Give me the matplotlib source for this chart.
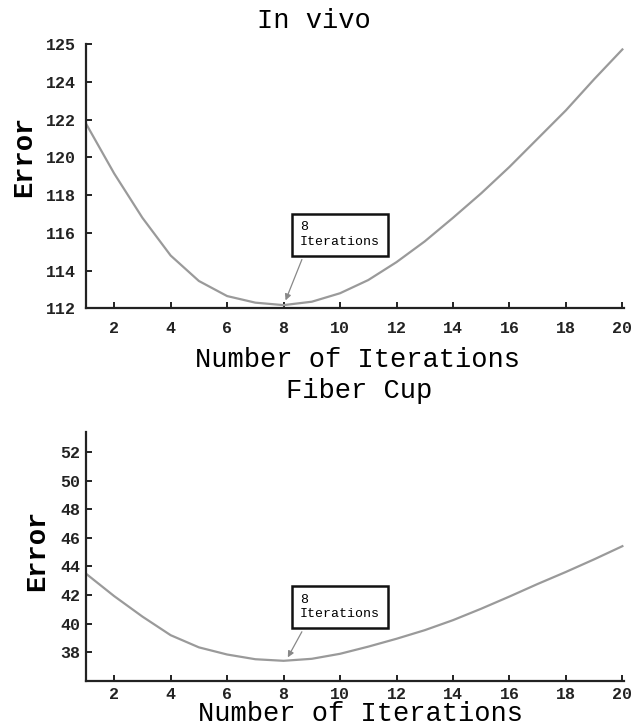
import matplotlib
matplotlib.use('Agg')
import matplotlib.pyplot as plt
import numpy as np

# iterations on the x axis
iterations = list(range(1, 21))

# error values
error_in_vivo = [121.8, 119.15, 116.8, 114.8, 113.45, 112.65, 112.3, 112.17, 112.35, 112.8,
                 113.5, 114.45, 115.55, 116.8, 118.1, 119.5, 121.0, 122.5, 124.15, 125.73]
error_fiber_cup = [43.5, 41.93, 40.5, 39.2, 38.35, 37.85, 37.52, 37.41, 37.55, 37.9,
                   38.4, 38.95, 39.55, 40.25, 41.05, 41.9, 42.78, 43.62, 44.5, 45.42]

xtick_vals = [2, 4, 6, 8, 10, 12, 14, 16, 18, 20]
# the top tick of the in vivo axis carries the label "125"
ytick_in_vivo_pos = [112, 114, 116, 118, 120, 122, 124, 126]
ytick_in_vivo_lab = ['112', '114', '116', '118', '120', '122', '124', '125']
ytick_fiber_cup = [38, 40, 42, 44, 46, 48, 50, 52]

best_iter = 8

plt.rcParams['font.family'] = ['Liberation Mono', 'DejaVu Sans Mono']

fig = plt.figure(figsize=(6.32, 7.27), dpi=100)
ax1 = fig.add_axes([0.136, 0.5759, 0.851, 0.3631])
ax2 = fig.add_axes([0.136, 0.0633, 0.851, 0.3425])

line_col = '#9a9a9a'


def style_axis(ax, ypad, xpad):
    for s in ['top', 'right']:
        ax.spines[s].set_visible(False)
    for s in ['left', 'bottom']:
        ax.spines[s].set_linewidth(1.6)
        ax.spines[s].set_color('#222222')
    ax.tick_params(which='both', direction='in', length=4, width=1.4, color='#222222')
    ax.tick_params(axis='y', pad=ypad, labelsize=12)
    ax.tick_params(axis='x', pad=xpad, labelsize=12)
    for lab in ax.get_xticklabels() + ax.get_yticklabels():
        lab.set_fontweight('bold')
        lab.set_color('#222222')
    ax.set_xlim(1, 20.05)


# top: In vivo
ax1.plot(iterations, error_in_vivo, color=line_col, lw=1.6, solid_joinstyle='round')
ax1.set_ylim(112, 126)
ax1.set_xticks(xtick_vals)
ax1.set_yticks(ytick_in_vivo_pos, ytick_in_vivo_lab)
style_axis(ax1, 7, 9)

ax1.annotate('8\nIterations', xy=(best_iter + 0.07, error_in_vivo[best_iter - 1] + 0.25),
             xytext=(10.0, 115.9), textcoords='data', ha='center', va='center',
             multialignment='left', fontsize=9.5, linespacing=1.3,
             bbox=dict(boxstyle='square,pad=0.6', fc='white', ec='#111111', lw=1.8),
             arrowprops=dict(arrowstyle='-|>', color='#888888', lw=0.9,
                             mutation_scale=9, relpos=(0.08, 0.0), shrinkB=0))

# bottom: Fiber Cup
ax2.plot(iterations, error_fiber_cup, color=line_col, lw=1.6, solid_joinstyle='round')
ax2.set_ylim(36, 53.4)
ax2.set_xticks(xtick_vals)
ax2.set_yticks(ytick_fiber_cup)
style_axis(ax2, 4, 4)

ax2.annotate('8\nIterations', xy=(best_iter + 0.15, error_fiber_cup[best_iter - 1] + 0.24),
             xytext=(10.0, 41.16), textcoords='data', ha='center', va='center',
             multialignment='left', fontsize=9.5, linespacing=1.3,
             bbox=dict(boxstyle='square,pad=0.6', fc='white', ec='#111111', lw=1.8),
             arrowprops=dict(arrowstyle='-|>', color='#888888', lw=0.9,
                             mutation_scale=9, relpos=(0.1, 0.0), shrinkB=0))

H = 727.0
W = 632.0
fig.text(314 / W, 1 - 28 / H, 'In vivo', ha='center', va='baseline', fontsize=19.5)
fig.text(357.5 / W, 1 - 367 / H, 'Number of Iterations', ha='center', va='baseline', fontsize=19.5)
fig.text(359 / W, 1 - 398 / H, 'Fiber Cup', ha='center', va='baseline', fontsize=19.5)
fig.text(360 / W, 1 - 721 / H, 'Number of Iterations', ha='center', va='baseline', fontsize=19.5)
fig.text(24 / W, 1 - 156 / H, 'Error', ha='center', va='center', fontsize=19.5,
         fontweight='bold', rotation=90)
fig.text(37 / W, 1 - 550 / H, 'Error', ha='center', va='center', fontsize=19.5,
         fontweight='bold', rotation=90)

plt.savefig('out.png', dpi=100)
plt.close()
